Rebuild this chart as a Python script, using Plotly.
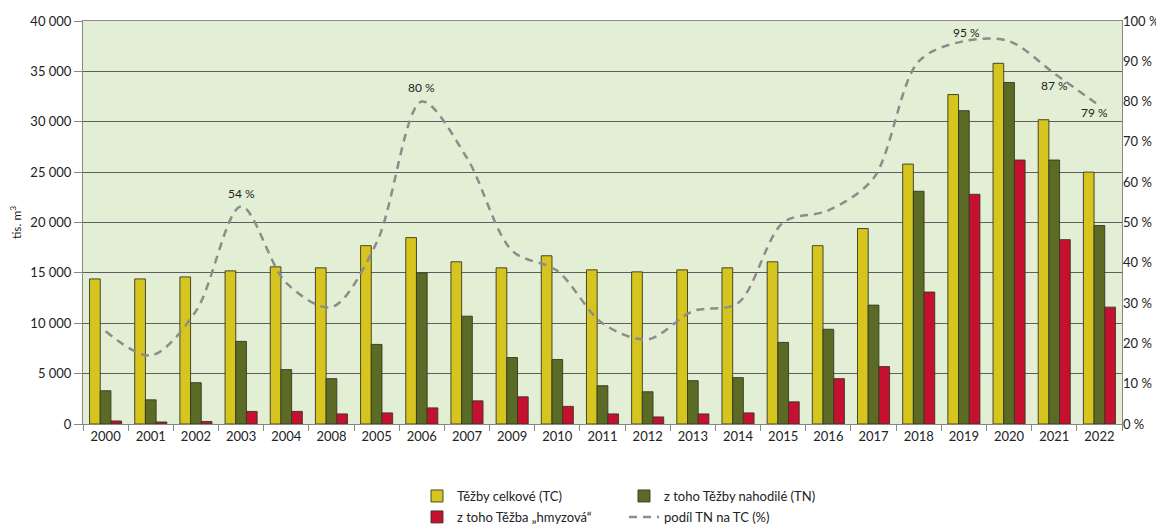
import plotly.graph_objects as go

years = ["2000", "2001", "2002", "2003", "2004", "2008", "2005", "2006", "2007", "2009",
         "2010", "2011", "2012", "2013", "2014", "2015", "2016", "2017", "2018", "2019",
         "2020", "2021", "2022"]
tc = [14400, 14400, 14600, 15200, 15600, 15500, 17700, 18500, 16100, 15500,
      16700, 15300, 15100, 15300, 15500, 16100, 17700, 19400, 25800, 32700,
      35800, 30200, 25000]
tn = [3300, 2400, 4100, 8200, 5400, 4500, 7900, 15000, 10700, 6600,
      6400, 3800, 3200, 4300, 4600, 8100, 9400, 11800, 23100, 31100,
      33900, 26200, 19700]
hmyz = [300, 200, 250, 1250, 1250, 1000, 1100, 1600, 2300, 2700,
        1750, 1000, 700, 1000, 1100, 2200, 4500, 5700, 13100, 22800,
        26200, 18300, 11600]
pct = [23, 17, 28, 54, 35, 29, 45, 80, 66, 43,
       38, 25, 21, 28, 30, 50, 53, 61, 90, 95,
       95, 87, 79]
labels = [("2003", 54, 13, 0), ("2006", 80, 14, 0), ("2019", 95, 9, 3),
          ("2021", 87, -12, 0), ("2022", 79, -7, -5)]

FONT = "Lato"
outline = "rgba(55,55,35,0.9)"

fig = go.Figure()
fig.add_trace(go.Bar(x=years, y=tc, name="Těžby celkové (TC)",
                     marker=dict(color="#D6C41F", line=dict(color=outline, width=1)),
                     legend="legend"))
fig.add_trace(go.Bar(x=years, y=tn, name="z toho Těžby nahodilé (TN)",
                     marker=dict(color="#5B6B25", line=dict(color=outline, width=1)),
                     legend="legend"))
fig.add_trace(go.Bar(x=years, y=hmyz, name="z toho Těžba „hmyzová“",
                     marker=dict(color="#C5102F", line=dict(color=outline, width=1)),
                     legend="legend2"))
fig.add_trace(go.Scatter(x=years, y=pct, name="podíl TN na TC (%)", yaxis="y2",
                         mode="lines",
                         line=dict(color="#8C8C8C", width=2.5, dash="8px,6px",
                                   shape="spline", smoothing=0.9),
                         legend="legend2"))

for yr, v, dy, dx in labels:
    fig.add_annotation(x=years.index(yr), y=v, xref="x", yref="y2", text=f"{v} %",
                       showarrow=False, yshift=dy, xshift=dx,
                       font=dict(family=FONT, size=12, color="#222"))

fig.update_layout(
    width=1156, height=519,
    margin=dict(l=75, r=42, t=13, b=103, autoexpand=False),
    paper_bgcolor="white",
    plot_bgcolor="#E3EFD4",
    separators=", ",
    barmode="group",
    bargap=0.29,
    bargroupgap=0,
    font=dict(family=FONT, size=13, color="#222"),
    xaxis=dict(type="category", categoryorder="array", categoryarray=years,
               range=[-0.5, len(years) - 0.5], autorange=False, automargin=False,
               showline=True, linecolor="#888", linewidth=1, mirror=True,
               ticks="outside", tickson="boundaries", ticklen=6, tickcolor="#888",
               showgrid=False, tickfont=dict(size=13), tickangle=0),
    yaxis=dict(range=[0, 40000], dtick=5000, tickformat=",d", automargin=False,
               showgrid=True, gridcolor="#5E5E5E", gridwidth=1,
               showline=True, linecolor="#888", linewidth=1, mirror=True,
               ticks="outside", ticklen=8, tickcolor="#888",
               zeroline=False, tickfont=dict(size=13),
               title=dict(text="tis. m<sup>3</sup>", standoff=12, font=dict(size=12))),
    yaxis2=dict(range=[0, 100], dtick=10, ticksuffix=" %", overlaying="y", side="right",
                automargin=False, tickfont=dict(size=13),
                showgrid=False, zeroline=False, showline=False, ticks=""),
    legend=dict(orientation="h", xref="container", yref="container",
                x=0.3538, y=0.0886, xanchor="left", yanchor="top",
                entrywidth=162, entrywidthmode="pixels", bgcolor="rgba(0,0,0,0)",
                font=dict(size=13), tracegroupgap=0),
    legend2=dict(orientation="h", xref="container", yref="container",
                 x=0.3538, y=0.0482, xanchor="left", yanchor="top",
                 entrywidth=162, entrywidthmode="pixels", bgcolor="rgba(0,0,0,0)",
                 font=dict(size=13), tracegroupgap=0),
)

fig.write_html("out.html")
